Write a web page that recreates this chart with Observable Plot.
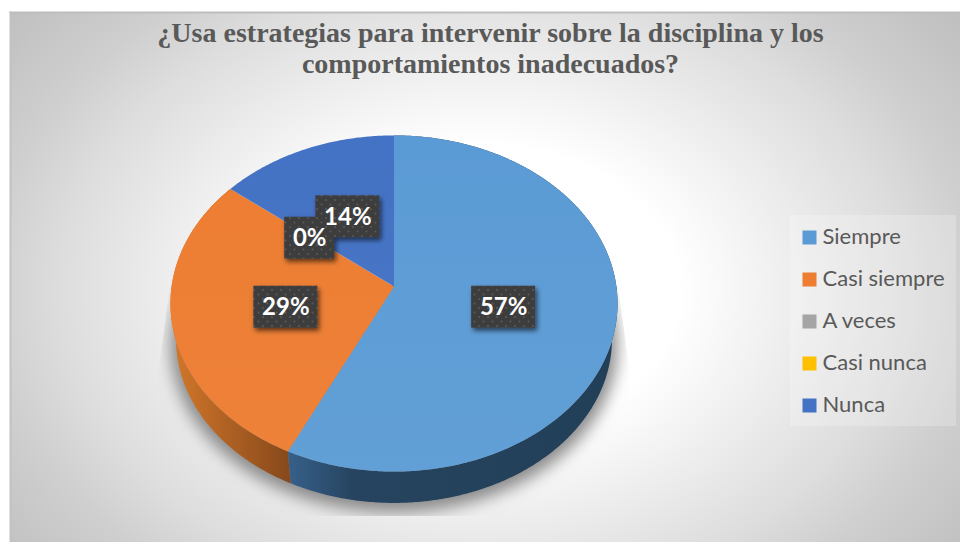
<!DOCTYPE html>
<html lang="es">
<head>
<meta charset="utf-8">
<style>html,body{margin:0;padding:0;background:#fff;overflow:hidden}</style>
<script src="https://cdn.jsdelivr.net/npm/d3@7"></script>
<script src="https://cdn.jsdelivr.net/npm/@observablehq/plot@0.6"></script>
</head>
<body>
<div id="chart"></div>
<script>
const titleText = "¿Usa estrategias para intervenir sobre la disciplina y los\ncomportamientos inadecuados?";
const categories = ["Siempre", "Casi siempre", "A veces", "Casi nunca", "Nunca"];
const percentages = [57.14, 28.57, 0, 0, 14.29];
const colors = ["#5b9bd5", "#ed7d31", "#a5a5a5", "#ffc000", "#4472c4"];
const wallFills = ["url(#wallBlue)", "url(#wallOrange)", "none", "none", "none"];

// Perspective view of the unit disc
const unitPx = 222.4, cx = 393.5, cy = 286, tilt = 0.101, squash = 0.748;
const project = (u, v, s = 1, drop = 0) => {
  const d = 1 - tilt * v;
  return {x: s * u / d, y: s * squash * v / d + drop};
};
const toX = (px) => (px - cx) / unitPx;
const toY = (py) => (py - cy) / unitPx;
const depthScale = 0.975, depthDrop = 36 / unitPx;

let acc = 0;
const slices = categories.map((name, i) => {
  const a0 = (acc / 100) * 2 * Math.PI;
  acc += percentages[i];
  const a1 = (acc / 100) * 2 * Math.PI;
  return {name, i, value: percentages[i], a0, a1, mid: (a0 + a1) / 2};
});
const arc = (s, scale, drop) => {
  const n = Math.max(2, Math.ceil((s.a1 - s.a0) / 0.01));
  return d3.range(n + 1).map((k) => {
    const a = s.a0 + ((s.a1 - s.a0) * k) / n;
    return project(Math.sin(a), -Math.cos(a), scale, drop);
  });
};
const visible = slices.filter((s) => s.value > 0);
const topFaces = visible.flatMap((s) =>
  [project(0, 0), ...arc(s, 1, 0)].map((p) => ({...p, name: s.name}))
);
const wall = (s) => [...arc(s, 1, 0), ...arc(s, depthScale, depthDrop).reverse()];
const wholeDisc = {a0: 0, a1: 2 * Math.PI};
const shadowEllipse = arc(wholeDisc, 1.0, depthDrop + 5 / unitPx);
const topSheen = arc(wholeDisc, 1, 0);

// Data labels: the two 0% slices share one box; 14% is drawn over it
const labelSlices = slices.filter((s) => s.value > 0 || s.name === "A veces");
const labels = d3.sort(labelSlices, (s) => s.name === "Nunca").map((s) => {
  const ang = s.value === 0 ? s.a0 : s.mid;
  const p = project(0.5 * Math.sin(ang), -0.5 * Math.cos(ang));
  const text = Math.round(s.value) + "%";
  const half = (text.length === 2 ? 25 : 32) / unitPx;
  return {x: p.x + (s.name === "Casi siempre" ? 1.5 / unitPx : 0), y: p.y + 2 / unitPx, text, half};
});
const boxHalfH = 21 / unitPx;

// Legend layout
const legendRows = categories.map((name, i) => ({
  name,
  x: toX(809),
  tx: toX(822),
  y: toY(237 + i * 42),
  ty: toY(236 + i * 42)
}));

const defs = () => d3.create("svg:g").html(`
  <defs>
    <radialGradient id="bg" gradientUnits="userSpaceOnUse" cx="0" cy="0" r="1"
      gradientTransform="translate(480 290) scale(601 439)">
      <stop offset="0.33" stop-color="#ffffff"/>
      <stop offset="0.70" stop-color="#dddddd"/>
      <stop offset="0.82" stop-color="#cfcfcf"/>
      <stop offset="1" stop-color="#c0c0c0"/>
    </radialGradient>
    <linearGradient id="wallBlue" x1="0" x2="1" y1="0" y2="0">
      <stop offset="0" stop-color="#37608a"/>
      <stop offset="0.2" stop-color="#26445f"/>
      <stop offset="1" stop-color="#223f58"/>
    </linearGradient>
    <linearGradient id="wallOrange" x1="0" x2="1" y1="0" y2="0">
      <stop offset="0" stop-color="#d4782a"/>
      <stop offset="1" stop-color="#86481b"/>
    </linearGradient>
    <linearGradient id="sheen" x1="0" x2="0" y1="0" y2="1">
      <stop offset="0" stop-color="#fff" stop-opacity="0"/>
      <stop offset="1" stop-color="#fff" stop-opacity="0.04"/>
    </linearGradient>
    <pattern id="dots" patternUnits="userSpaceOnUse" width="9" height="9">
      <rect width="9" height="9" fill="#3e3e3e"/>
      <circle cx="2" cy="2" r="1" fill="#5a5a5a"/>
      <circle cx="6.5" cy="6.5" r="1" fill="#5a5a5a"/>
    </pattern>
    <filter id="softBlur" x="-20%" y="-20%" width="140%" height="140%">
      <feGaussianBlur stdDeviation="8"/>
    </filter>
    <filter id="boxShadow" x="-20%" y="-20%" width="140%" height="140%">
      <feDropShadow dx="2" dy="3" stdDeviation="2.5" flood-color="#000" flood-opacity="0.6"/>
    </filter>
    <clipPath id="shadowClip">
      <polygon points="170,285 155,397 155,516 632,516 632,390 618,285"/>
    </clipPath>
  </defs>`).node();

const labelFont = "Lato, 'Open Sans', sans-serif";
const plot = Plot.plot({
  width: 960,
  height: 542,
  marginLeft: 10,
  marginTop: 12,
  marginRight: 0,
  marginBottom: 0,
  style: {background: "transparent"},
  x: {domain: [-1, 1], range: [cx - unitPx, cx + unitPx], axis: null},
  y: {domain: [-1, 1], range: [cy - unitPx, cy + unitPx], axis: null},
  color: {domain: categories, range: colors},
  marks: [
    defs,
    Plot.frame({fill: "url(#bg)", stroke: "none"}),
    Plot.frame({anchor: "top", stroke: "#bdbdbd", strokeWidth: 2}),
    Plot.frame({anchor: "left", stroke: "#c2c2c2", strokeWidth: 2}),
    Plot.line(shadowEllipse, {x: "x", y: "y", fill: "#8a8a8a", stroke: "none"}),
    ...visible.filter((s) => wallFills[s.i] !== "none").map((s) =>
      Plot.line(wall(s), {x: "x", y: "y", fill: wallFills[s.i], stroke: "none"})
    ),
    Plot.line(topFaces, {x: "x", y: "y", z: "name", fill: "name", stroke: "none"}),
    Plot.line(topSheen, {x: "x", y: "y", fill: "url(#sheen)", stroke: "none"}),
    Plot.rect(labels, {
      x1: (d) => d.x - d.half,
      x2: (d) => d.x + d.half,
      y1: (d) => d.y - boxHalfH,
      y2: (d) => d.y + boxHalfH,
      fill: "url(#dots)"
    }),
    Plot.text(labels, {
      x: "x",
      y: "y",
      text: "text",
      fill: "#fff",
      fontSize: 24,
      fontWeight: 700,
      fontFamily: labelFont
    }),
    Plot.rect([0], {
      x1: () => toX(790),
      x2: () => toX(956),
      y1: () => toY(215),
      y2: () => toY(426),
      fill: "#fff",
      fillOpacity: 0.22
    }),
    Plot.dot(legendRows, {x: "x", y: "y", fill: "name", symbol: "square", r: 7.9, stroke: "none"}),
    Plot.text(legendRows, {
      x: "tx",
      y: "ty",
      text: "name",
      textAnchor: "start",
      fill: "#595959",
      fontSize: 22,
      fontFamily: labelFont
    }),
    Plot.text([titleText], {
      text: (d) => d,
      frameAnchor: "top",
      lineAnchor: "top",
      dx: 5,
      dy: 7,
      lineHeight: 1.12,
      fill: "#595959",
      fontSize: 28,
      fontWeight: 700,
      fontFamily: "'Liberation Serif', serif"
    })
  ]
});
document.getElementById("chart").appendChild(plot);
const shadowGroup = plot.querySelector('g[aria-label="line"]');
shadowGroup.setAttribute("filter", "url(#softBlur)");
const clipWrap = document.createElementNS("http://www.w3.org/2000/svg", "g");
clipWrap.setAttribute("clip-path", "url(#shadowClip)");
shadowGroup.replaceWith(clipWrap);
clipWrap.appendChild(shadowGroup);
plot.querySelector('g[aria-label="rect"]').setAttribute("filter", "url(#boxShadow)");
</script>
</body>
</html>
